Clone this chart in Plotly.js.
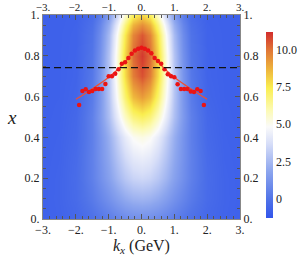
<!DOCTYPE html>
<html><head><meta charset="utf-8">
<script src="https://cdn.plot.ly/plotly-3.0.1.min.js"></script>
<style>body{margin:0;background:#fff}#c{width:306px;height:256px}</style>
</head><body><div id="c"></div>
<script>
// heatmap grid
const kxGrid = [-3,-2.5,-2,-1.5,-1.25,-1,-0.75,-0.5,-0.25,0,0.25,0.5,0.75,1,1.25,1.5,2,2.5,3];
const xGrid = [0,0.1,0.2,0.3,0.4,0.5,0.6,0.7,0.8,0.9,0.95,1.0];
const zRow00 = [-0.77,-0.69,-0.51,-0.15,0.08,0.34,0.59,0.81,0.95,1.0,0.95,0.81,0.59,0.34,0.08,-0.15,-0.51,-0.69,-0.77];
const zRow01 = [-0.77,-0.66,-0.38,0.21,0.62,1.08,1.54,1.94,2.20,2.3,2.20,1.94,1.54,1.08,0.62,0.21,-0.38,-0.66,-0.77];
const zRow02 = [-0.77,-0.67,-0.34,0.43,1.01,1.67,2.35,2.94,3.35,3.5,3.35,2.94,2.35,1.67,1.01,0.43,-0.34,-0.67,-0.77];
const zRow03 = [-0.78,-0.70,-0.38,0.45,1.12,1.93,2.79,3.56,4.10,4.3,4.10,3.56,2.79,1.93,1.12,0.45,-0.38,-0.70,-0.78];
const zRow04 = [-0.79,-0.73,-0.46,0.40,1.17,2.14,3.21,4.22,4.94,5.2,4.94,4.22,3.21,2.14,1.17,0.40,-0.46,-0.73,-0.79];
const zRow05 = [-0.8,-0.76,-0.51,0.42,1.38,2.68,4.21,5.70,6.79,7.2,6.79,5.70,4.21,2.68,1.38,0.42,-0.51,-0.76,-0.8];
const zRow06 = [-0.8,-0.78,-0.62,0.25,1.30,2.88,4.90,6.99,8.59,9.2,8.59,6.99,4.90,2.88,1.30,0.25,-0.62,-0.78,-0.8];
const zRow07 = [-0.8,-0.79,-0.67,0.13,1.21,2.95,5.30,7.84,9.84,10.6,9.84,7.84,5.30,2.95,1.21,0.13,-0.67,-0.79,-0.8];
const zRow08 = [-0.8,-0.79,-0.69,0.04,1.08,2.84,5.29,8.0,10.16,11.0,10.16,8.0,5.29,2.84,1.08,0.04,-0.69,-0.79,-0.8];
const zRow09 = [-0.8,-0.79,-0.71,-0.07,0.88,2.54,4.89,7.53,9.67,10.5,9.67,7.53,4.89,2.54,0.88,-0.07,-0.71,-0.79,-0.8];
const zRow095 = [-0.8,-0.8,-0.73,-0.18,0.66,2.15,4.30,6.74,8.73,9.5,8.73,6.74,4.30,2.15,0.66,-0.18,-0.73,-0.8,-0.8];
const zRow10 = [-0.8,-0.8,-0.76,-0.36,0.30,1.52,3.36,5.51,7.30,8.0,7.30,5.51,3.36,1.52,0.30,-0.36,-0.76,-0.8,-0.8];

// data points (red dots)
const ptKx = [-1.9,-1.8,-1.7,-1.6,-1.5,-1.4,-1.3,-1.2,-1.1,-1.0,-0.9,-0.8,-0.7,-0.6,-0.5,-0.4,-0.3,-0.2,-0.1,0,0.1,0.2,0.3,0.4,0.5,0.6,0.7,0.8,0.9,1.0,1.1,1.2,1.3,1.4,1.5,1.6,1.7,1.8,1.9];
const ptX = [0.559,0.627,0.636,0.622,0.627,0.637,0.637,0.637,0.662,0.700,0.700,0.712,0.734,0.761,0.768,0.789,0.810,0.826,0.835,0.840,0.835,0.826,0.812,0.789,0.774,0.761,0.734,0.709,0.700,0.695,0.660,0.637,0.637,0.637,0.625,0.622,0.636,0.628,0.559];

// fit curve
const fitKx = [-2,-1.75,-1.5,-1.25,-1,-0.75,-0.5,-0.25,0,0.25,0.5,0.75,1,1.25,1.5,1.75,2];
const fitX = [0.587,0.612,0.638,0.665,0.695,0.729,0.770,0.816,0.842,0.816,0.770,0.729,0.695,0.665,0.638,0.612,0.587];

const dashX = 0.742;

const xTickVals = [-3,-2,-1,0,1,2,3];
const xTickText = ['\u22123.','\u22122.','\u22121.','0.','1.','2.','3.'];
const yTickVals = [0,0.2,0.4,0.6,0.8,1];
const yTickText = ['0.','0.2','0.4','0.6','0.8','1.'];
const cbTickVals = [0,2.5,5,7.5,10];
const cbTickText = ['0','2.5','5.0','7.5','10.0'];

const zmin = -1.3, zmax = 11.2;
const cscale = [
  [0,'rgb(50,85,235)'],
  [0.1,'rgb(80,115,232)'],
  [0.25,'rgb(140,165,238)'],
  [0.4,'rgb(215,222,248)'],
  [0.49,'rgb(250,250,250)'],
  [0.58,'rgb(252,250,180)'],
  [0.7,'rgb(250,238,80)'],
  [0.8,'rgb(238,180,60)'],
  [0.9,'rgb(225,120,55)'],
  [1,'rgb(210,45,45)']
];

const serif = "'Liberation Serif', 'DejaVu Serif', serif";
const tickFont = {family: serif, size: 12, color: '#222'};

const traces = [
  {type:'heatmap', x:kxGrid, y:xGrid,
   z:[zRow00,zRow01,zRow02,zRow03,zRow04,zRow05,zRow06,zRow07,zRow08,zRow09,zRow095,zRow10],
   zsmooth:'best', zmin:zmin, zmax:zmax, colorscale:cscale,
   colorbar:{x:1.132, xanchor:'left', xpad:0, y:0.461, yanchor:'middle', ypad:0,
     len:0.912, lenmode:'fraction', thickness:7, outlinewidth:0, ticks:'',
     tickvals:cbTickVals, ticktext:cbTickText, tickfont:{family:serif,size:12,color:'#222'}},
   hoverinfo:'skip'},
  {type:'scatter', mode:'lines', x:fitKx, y:fitX, line:{color:'rgb(240,80,50)', width:1.2, shape:'spline'}, hoverinfo:'skip'},
  {type:'scatter', mode:'markers', x:ptKx, y:ptX, marker:{color:'rgb(235,20,20)', size:4.5}, hoverinfo:'skip'},
  {type:'scatter', mode:'lines', x:[-3,3], y:[dashX,dashX], line:{color:'#111', width:1.3, dash:'7px,4px'}, hoverinfo:'skip'},
  {type:'scatter', x:[-3], y:[0], xaxis:'x2', yaxis:'y2', mode:'markers', marker:{opacity:0}, hoverinfo:'skip'}
];

const axCommon = {showgrid:false, zeroline:false, ticks:'inside', ticklen:5, tickwidth:1, tickcolor:'#555',
  showline:true, linecolor:'#888', linewidth:1, tickfont:tickFont};

const layout = {
  width:306, height:256, margin:{l:43, r:58, t:15, b:37},
  font:{family:serif, color:'#222'},
  paper_bgcolor:'#fff', plot_bgcolor:'#fff', showlegend:false,
  xaxis: Object.assign({}, axCommon, {range:[-3,3], tickvals:xTickVals, ticktext:xTickText,
     minor:{dtick:0.2, ticklen:3, tickcolor:'#555', ticks:'inside'}}),
  xaxis2: Object.assign({}, axCommon, {range:[-3,3], overlaying:'x', side:'top', anchor:'y', tickvals:xTickVals, ticktext:xTickText,
     tickfont:{family:serif, size:11, color:'#222'}, ticklabelstandoff:-1,
     minor:{dtick:0.2, ticklen:3, tickcolor:'#555', ticks:'inside'}}),
  yaxis: Object.assign({}, axCommon, {range:[0,1], tickvals:yTickVals, ticktext:yTickText,
     minor:{dtick:0.05, ticklen:3, tickcolor:'#555', ticks:'inside'}}),
  yaxis2: Object.assign({}, axCommon, {range:[0,1], overlaying:'y', side:'right', anchor:'x', tickvals:yTickVals, ticktext:yTickText,
     minor:{dtick:0.05, ticklen:3, tickcolor:'#555', ticks:'inside'}}),
  annotations:[
    {text:'<i>x</i>', xref:'paper', yref:'paper', x:-0.155, y:0.5, xanchor:'center', yanchor:'middle', showarrow:false,
     font:{family:serif, size:19, color:'#222'}},
    {text:'<i>k</i><sub><i>x</i></sub> (GeV)', xref:'paper', yref:'paper', x:0.5, y:-0.135, xanchor:'center', yanchor:'middle', showarrow:false,
     font:{family:serif, size:16, color:'#222'}}
  ]
};

Plotly.newPlot('c', traces, layout, {staticPlot:true, displayModeBar:false});
</script></body></html>
